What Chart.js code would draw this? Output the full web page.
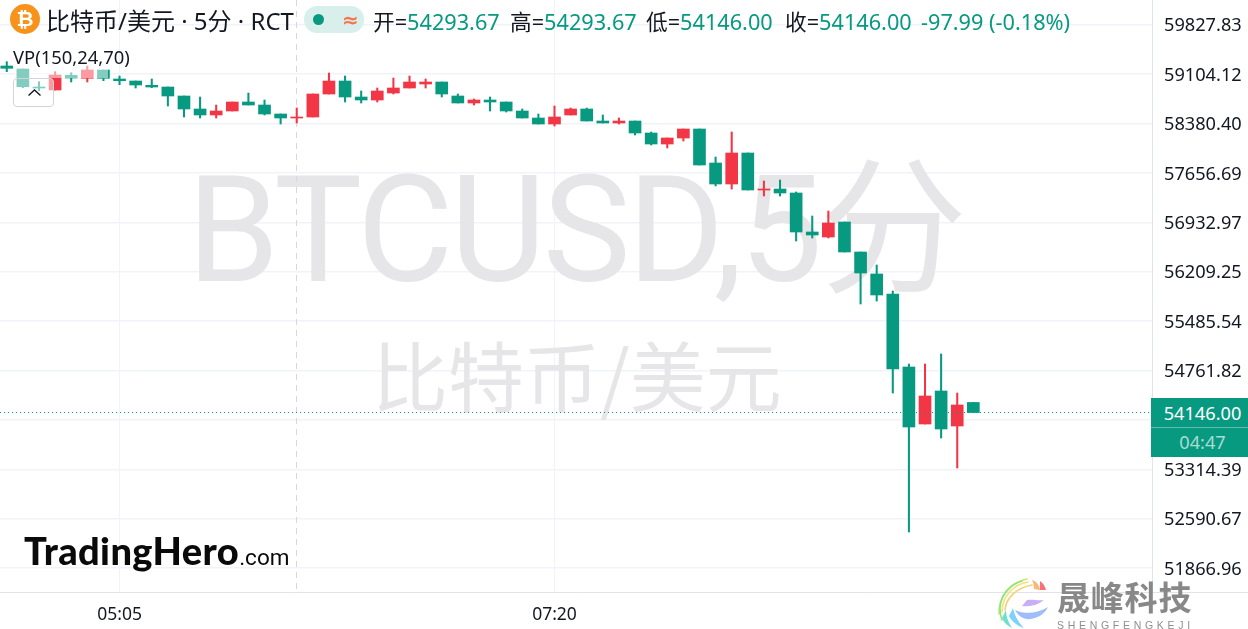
<!DOCTYPE html>
<html>
<head>
<meta charset="utf-8">
<title>BTCUSD</title>
<script src="https://cdn.jsdelivr.net/npm/chart.js@4/dist/chart.umd.min.js"></script>
<style>
html, body { margin: 0; padding: 0; background: #fff; overflow: hidden; }
body { width: 1248px; height: 629px; position: relative; font-family: "Noto Sans", "Noto Sans CJK SC", sans-serif; color: #131722; }
#wrap { position: absolute; left: 0; top: 0; width: 1248px; height: 629px; }
.t { position: absolute; white-space: pre; line-height: 1; }
.o { font-size: 21.7px; top: 11px; }
.g { color: #089981; }
#fade { position: absolute; left: 14px; top: 44px; width: 94px; height: 34px; background: rgba(255,255,255,.5); }
#btn { position: absolute; left: 13px; top: 78px; width: 39px; height: 27px; border: 1px solid #d1d4dc; border-radius: 4px; background: rgba(255,255,255,.5); }
#coin { position: absolute; left: 10px; top: 4px; width: 30px; height: 30px; border-radius: 50%; background: #f7931a; color: #fff; font: bold 21px/30px "Liberation Sans"; text-align: center; }
#pill { position: absolute; left: 304px; top: 6px; width: 60px; height: 27px; border-radius: 13px; background: #d9efeb; }
#dot { position: absolute; left: 9px; top: 8px; width: 11px; height: 11px; border-radius: 50%; background: #089981; }
#wave { position: absolute; left: 38px; top: 2px; color: #f7734d; font: bold 20px/24px "DejaVu Sans"; }
#last { position: absolute; left: 1151px; top: 398px; width: 91px; padding-left: 6px; height: 59px; background: #089981; color: #fff; text-align: center; }
#last .p { margin-left: -6px; padding-left: 6px; height: 29px; border-bottom: 1px solid #5fbdac; font-size: 18.2px; line-height: 30px; }
#last .c { font-size: 18.2px; line-height: 29px; color: #a9dcd2; }
#axisline { position: absolute; left: 1151px; top: 592px; width: 97px; height: 1px; background: #e0e3eb; }
#hero { position: absolute; left: 24px; top: 528px; font: 900 38px/44px Lato, sans-serif; color: #0a0a0a; letter-spacing: .4px; }
#hero span { font: 400 22.5px/44px Roboto, sans-serif; letter-spacing: 0; }
#brand { position: absolute; left: 1057px; top: 577px; font: bold 33px/38px "Noto Sans CJK SC"; color: #888; letter-spacing: .8px; }
#brand2 { position: absolute; left: 1057px; top: 620px; font: 10.5px/11px "Liberation Sans"; color: #8f8f8f; letter-spacing: 3.7px; }
#swirl { position: absolute; left: 994px; top: 576px; }
</style>
</head>
<body>
<div id="wrap"><canvas id="myChart" width="1248" height="629"></canvas></div>

<div id="fade"></div>
<div id="axisline"></div>
<div id="coin">₿</div>
<div class="t" style="left:46px;top:9px;font-size:24px">比特币/美元 · 5分 · RCT</div>
<div id="pill"><div id="dot"></div><div id="wave">≈</div></div>
<div class="t o" style="left:373px">开=<span class="g">54293.67</span></div>
<div class="t o" style="left:510px">高=<span class="g">54293.67</span></div>
<div class="t o" style="left:646px">低=<span class="g">54146.00</span></div>
<div class="t o" style="left:785px">收=<span class="g">54146.00</span></div>
<div class="t o g" style="left:921px">-97.99 (-0.18%)</div>
<div class="t" style="left:13px;top:48px;font-size:18.4px">VP(150,24,70)</div>
<div id="btn"><svg style="position:absolute;left:13px;top:9px" width="15" height="9"><path d="M1.5 7.5 L7.5 2 L13.5 7.5" fill="none" stroke="#131722" stroke-width="1.4"/></svg></div>

<div id="last"><div class="p">54146.00</div><div class="c">04:47</div></div>

<div id="hero">TradingHero<span>.com</span></div>
<svg id="swirl" width="60" height="53" viewBox="0 0 60 53" fill="none" stroke-linecap="round">
  <path d="M8 36 C8 20 20 8 34 6" stroke="#f5e27a" stroke-width="1.6"/>
  <path d="M5 38 C4 20 18 6 33 3" stroke="#c4e86f" stroke-width="1.6"/>
  <path d="M8 44 C2 28 10 10 28 5" stroke="#8fe37d" stroke-width="1.6"/>
  <path d="M11 34 C12 22 22 12 38 9" stroke="#f7cf72" stroke-width="1.6"/>
  <path d="M38 4 C42 5 45 8 46 14 L40 13 C40 9 39 6 38 4 Z" fill="#f9b877" stroke="none"/>
  <path d="M46 5 C49 7 51 10 52 14 L46 14 C46 10 46 7 46 5 Z" fill="#f7707a" stroke="none"/>
  <path d="M8 42 C10 47 14 50 18 52 C14 46 12 40 12 34 Z" fill="#6fe0cf" stroke="none"/>
  <path d="M15 40 C18 46 24 50 30 52 C24 46 20 38 19 32 Z" fill="#7fd2f7" stroke="none"/>
  <path d="M21 34 C25 42 33 45 41 42 C48 40 52 35 54 31 C44 37 32 39 21 34 Z" fill="#a0bdfb" stroke="none"/>
  <path d="M28 30 C36 31 44 29 50 24 C44 25 38 23 33 24 Z" fill="#c7aef6" stroke="none"/>
</svg>
<div id="brand">晟峰科技</div>
<div id="brand2">SHENGFENGKEJI</div>

<script>
// 5 min bars
const times = ['04:30','04:35','04:40','04:45','04:50','04:55','05:00','05:05','05:10','05:15','05:20','05:25','05:30','05:35','05:40','05:45','05:50','05:55','06:00','06:05','06:10','06:15','06:20','06:25','06:30','06:35','06:40','06:45','06:50','06:55','07:00','07:05','07:10','07:15','07:20','07:25','07:30','07:35','07:40','07:45','07:50','07:55','08:00','08:05','08:10','08:15','08:20','08:25','08:30','08:35','08:40','08:45','08:50','08:55','09:00','09:05','09:10','09:15','09:20','09:25','09:30'];
const opens = [59222.8,59178.8,58915.1,58871.2,59086.6,59042.6,59164.2,59032.3,59003,58940.1,58915.1,58783.3,58592.9,58505,58563.6,58695.4,58651.4,58519.6,58461,58475.7,58812.6,59003,58768.6,58724.7,58827.2,58900.5,58959.1,58988.4,58783.3,58680.8,58724.7,58695.4,58563.6,58461,58373.1,58505,58592.9,58417,58387.8,58417,58241.2,58080.1,58168,58299.85,57801.75,57494.1,57948.25,57406.2,57420.85,57362.25,56790.9,56717.65,56937.4,56497.9,56175.6,55882.6,54813.15,53978.1,54461.55,53948.8,54293.67];
const highs = [59285.8,59178.8,58992.8,59139.3,59124.6,59222.8,59164.2,59076.3,59003,59032.3,58915.1,58783.3,58768.6,58651.4,58695.4,58827.2,58724.7,58519.6,58607.5,58812.6,59120.3,59076.3,58856.6,58900.5,59047,59076.3,59032.3,58988.4,58812.6,58739.4,58768.6,58695.4,58592.9,58519.6,58636.8,58607.5,58607.5,58505,58461,58417,58255.9,58168,58299.85,58299.85,57889.65,58255.9,57948.25,57538,57552.7,57376.9,57025.3,57098.55,56937.4,56497.9,56307.45,55926.55,54857.1,54857.1,55003.6,54432.25,54293.67];
const lows = [59139.3,58904.9,58860.9,58871.2,58988.4,58988.4,59007.4,58948.8,58900.5,58904.9,58636.8,58475.7,58461,58461,58563.6,58651.4,58505,58373.1,58387.8,58475.7,58812.6,58695.4,58680.8,58695.4,58812.6,58900.5,58900.5,58768.6,58680.8,58651.4,58563.6,58548.9,58461,58373.1,58343.8,58505,58417,58387.8,58373.1,58211.95,58065.45,58021.5,58124.05,57772.45,57464.8,57420.85,57406.2,57318.3,57318.3,56659,56703,56703,56497.9,55736.1,55779.05,54432.25,52395.9,53978.1,53772.9,53333.5,54146];
const closes = [59189.1,58919.5,58900.5,59090.9,59047,59164.2,59042.6,59007.4,58944.4,58915.1,58783.3,58592.9,58505,58563.6,58695.4,58651.4,58519.6,58461,58475.7,58812.6,59003,58768.6,58724.7,58856.6,58900.5,58988.4,58988.4,58812.6,58680.8,58724.7,58695.4,58563.6,58461,58373.1,58475.7,58592.9,58417,58387.8,58417,58241.2,58080.1,58168,58299.85,57772.45,57494.1,57948.25,57406.2,57420.85,57362.25,56790.9,56746.95,56922.75,56497.9,56190.25,55868,54783.85,53934.15,54388.3,53904.85,54256.45,54146];

const priceTicks = [59827.83,59104.12,58380.40,57656.69,56932.97,56209.25,55485.54,54761.82,54038.10,53314.39,52590.67,51866.96];
const hiddenTick = 54038.10;
const lastPrice = 54146.00;
const timeTickIdx = [7, 34];

const UP = '#F23645', DOWN = '#089981';

const barColors = closes.map((c, i) => c >= opens[i] ? UP : DOWN);
const bodyData = times.map((t, i) => ({x: i, y: [opens[i], closes[i]]}));
const wickData = times.map((t, i) => ({x: i, y: [lows[i], highs[i]]}));

// watermark, crosshair and last price line go under the candles
const backdrop = {
    id: 'backdrop',
    beforeDatasetsDraw(chart) {
        const {ctx, chartArea} = chart;
        ctx.save();
        ctx.fillStyle = '#e6e6e8';
        ctx.textBaseline = 'alphabetic';
        ctx.font = '400 148px Roboto, "Noto Sans CJK SC"';
        ctx.letterSpacing = '-3.3px';
        ctx.fillText('BTCUSD,5分', 187, 281);
        ctx.letterSpacing = '0px';
        ctx.font = '400 76px "Noto Sans CJK SC"';
        ctx.fillText('比特币/美元', 372, 406);
        // crosshair
        ctx.strokeStyle = '#d5d8e0';
        ctx.setLineDash([6, 5]);
        ctx.beginPath();
        ctx.moveTo(296.5, chartArea.top);
        ctx.lineTo(296.5, chartArea.bottom);
        ctx.stroke();
        ctx.restore();
    },
    afterDatasetsDraw(chart) {
        const {ctx, chartArea, scales} = chart;
        const y = Math.floor(scales.y.getPixelForValue(lastPrice)) + 0.5;
        ctx.save();
        ctx.strokeStyle = DOWN;
        ctx.lineWidth = 1;
        ctx.setLineDash([1, 3]);
        ctx.beginPath();
        ctx.moveTo(chartArea.left, y);
        ctx.lineTo(chartArea.right, y);
        ctx.stroke();
        ctx.restore();
    }
};

new Chart(document.getElementById('myChart'), {
    type: 'bar',
    data: {
        datasets: [
            {
                label: 'wick',
                data: wickData,
                backgroundColor: barColors,
                barThickness: 1.4,
                grouped: false,
                order: 2
            },
            {
                label: 'body',
                data: bodyData,
                backgroundColor: barColors,
                barThickness: 12,
                minBarLength: 1,
                grouped: false,
                order: 1
            }
        ]
    },
    plugins: [backdrop],
    options: {
        responsive: false,
        animation: false,
        events: [],
        layout: { padding: 0 },
        plugins: { legend: { display: false }, tooltip: { enabled: false }, title: { display: false } },
        scales: {
            x: {
                type: 'linear',
                offset: false,
                min: -0.42,
                max: 71.09,
                afterBuildTicks(axis) { axis.ticks = timeTickIdx.map(v => ({value: v})); },
                afterFit(axis) { axis.height = 37; axis.paddingLeft = 0; axis.paddingRight = 0; },
                grid: { color: '#f0f3fa', offset: false, drawTicks: false },
                border: { color: '#e0e3eb' },
                ticks: {
                    autoSkip: false, maxRotation: 0, padding: 13,
                    color: '#131722', font: { family: '"Noto Sans"', size: 17.5 },
                    callback: v => times[v]
                }
            },
            y: {
                position: 'right',
                min: 51516.9,
                max: 60189.7,
                afterBuildTicks(axis) { axis.ticks = priceTicks.map(v => ({value: v})); },
                afterFit(axis) { axis.width = 96; axis.paddingTop = 0; axis.paddingBottom = 0; },
                grid: { color: '#f0f3fa', lineWidth: 1.5, drawTicks: false },
                border: { color: '#e0e3eb' },
                ticks: {
                    autoSkip: false, padding: 12, labelOffset: 1.5,
                    color: '#131722', font: { family: '"Noto Sans"', size: 18.2 },
                    callback: v => v === hiddenTick ? '' : v.toFixed(2)
                }
            }
        }
    }
});
</script>
</body>
</html>
